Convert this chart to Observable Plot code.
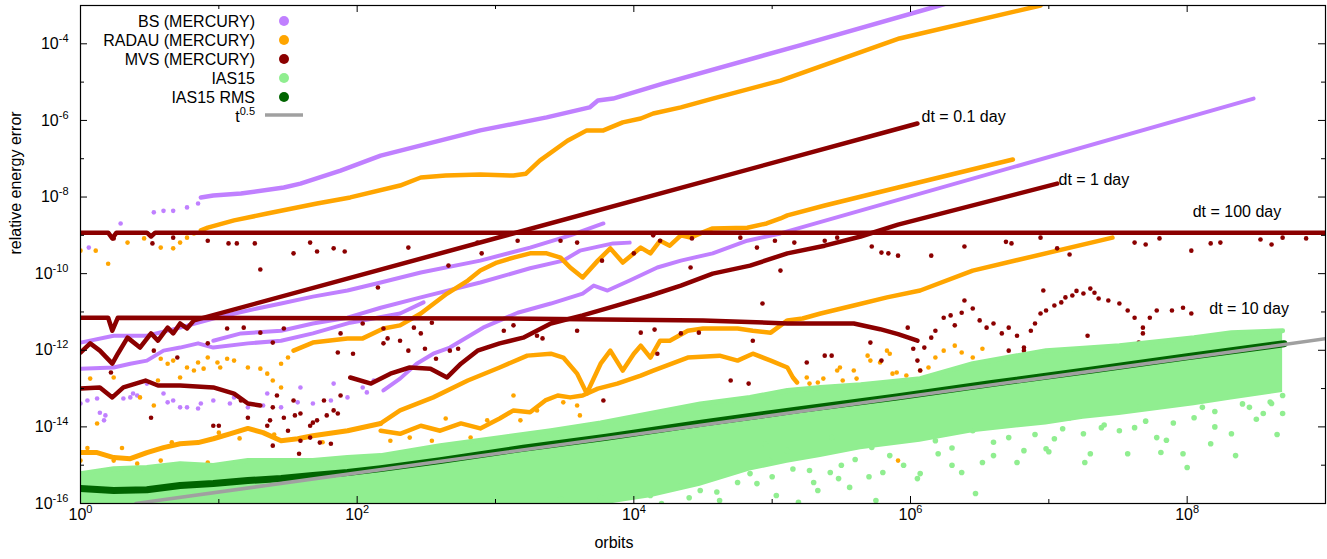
<!DOCTYPE html>
<html><head><meta charset="utf-8">
<script src="https://cdn.jsdelivr.net/npm/d3@7"></script>
<script src="https://cdn.jsdelivr.net/npm/@observablehq/plot@0.6"></script>
<style>body{margin:0;background:#fff} svg{display:block}</style>
</head><body><div id="chart"></div>
<script>
// values stored as [log10(orbits), log10(relative energy error)]
const bsTopStart = [[0.06,-9.32],[0.29,-8.69],[0.53,-8.40],[0.60,-8.36],[0.67,-8.36],[0.77,-8.27],[0.85,-8.17]];
const bsTop = [[0.87,-8.01],[0.96,-7.96],[1.16,-7.91],[1.47,-7.75],[1.59,-7.65],[1.88,-7.31],[2.17,-6.92],[2.89,-6.26],[3.37,-5.92],[3.68,-5.66],[3.74,-5.48],[3.85,-5.43],[4.21,-5.04],[5.20,-4.04],[6.21,-3.0],[6.3,-2.9]];
const bsFanA = [[0,-11.80],[0.24,-11.62],[0.48,-11.62],[0.72,-11.41],[0.96,-11.17],[1.21,-10.96],[1.45,-10.78],[1.68,-10.60],[1.93,-10.44],[2.17,-10.23],[2.46,-9.97],[2.89,-9.66],[3.25,-9.32],[3.54,-9.00],[3.78,-8.69]];
const bsFanB = [[0.96,-11.75],[1.16,-11.56],[1.45,-11.49],[1.68,-11.30],[1.93,-11.15],[2.17,-10.89],[2.46,-10.62],[2.89,-10.23],[3.25,-9.86],[3.49,-9.66],[3.61,-9.40],[3.85,-9.21],[3.97,-9.19]];
const bsFanC = [[0,-12.48],[0.24,-12.45],[0.36,-12.35],[0.48,-12.27],[0.60,-12.01],[0.72,-11.93],[0.85,-11.82],[0.96,-11.93],[1.21,-11.82],[1.45,-11.75],[1.68,-11.56],[1.95,-11.28],[2.31,-11.04],[2.48,-10.75]];
const bsLowStart = [[0,-13.39],[0.05,-13.31],[0.12,-13.26],[0.14,-13.63],[0.17,-13.83],[0.18,-13.70],[0.31,-13.26],[0.36,-13.23],[0.41,-13.18],[0.48,-12.87],[0.60,-13.13],[0.67,-13.31],[0.72,-13.49],[0.85,-13.52],[0.96,-13.31],[1.08,-13.39],[1.21,-13.49],[1.32,-13.44],[1.45,-13.49],[1.57,-13.36],[1.68,-13.39],[1.81,-13.31],[1.93,-13.23],[2.04,-12.97],[2.12,-12.79],[0.38,-13.13],[0.63,-13.36],[0.77,-13.49],[0.87,-13.39],[1.11,-13.23],[1.35,-13.13],[1.59,-12.97],[1.83,-12.87],[2.07,-13.10]];
const bsLow = [[2.19,-13.05],[2.31,-12.74],[2.43,-12.35],[2.55,-12.09],[2.67,-11.93],[2.91,-11.41],[3.16,-11.02],[3.40,-10.78],[3.63,-10.52],[3.71,-10.31],[3.81,-10.44],[3.97,-10.18],[4.17,-9.84],[4.34,-9.66],[4.57,-9.47],[4.82,-9.14],[5.06,-8.95],[8.48,-5.43]];

const radauTopStart = [[0,-9.40],[0.11,-9.40],[0.20,-9.74],[0.34,-9.19],[0.46,-9.08],[0.58,-9.32],[0.67,-9.34],[0.72,-9.19],[0.77,-9.06],[0.82,-8.95]];
const radauTop = [[0.87,-8.87],[0.92,-8.80],[1.11,-8.61],[1.35,-8.43],[1.71,-8.17],[1.95,-8.01],[2.31,-7.70],[2.46,-7.49],[2.64,-7.44],[2.89,-7.41],[3.13,-7.44],[3.22,-7.39],[3.32,-7.05],[3.52,-6.53],[3.66,-6.26],[3.78,-6.26],[3.92,-6.05],[4.05,-5.95],[4.14,-5.82],[4.34,-5.66],[4.57,-5.43],[5.06,-4.96],[5.92,-3.86],[6.94,-3.0]];
const radauMidDots = [[0.58,-12.22],[0.63,-12.35],[0.67,-12.27],[0.77,-12.45],[0.85,-12.32],[0.92,-12.19],[0.99,-12.32],[1.06,-12.22],[1.11,-12.27],[1.01,-12.45],[0.89,-12.48],[0.82,-12.53],[0.72,-12.71],[0.56,-12.79],[1.21,-12.45],[1.30,-12.48],[1.35,-12.61],[1.39,-12.79],[1.45,-12.97],[1.45,-12.35],[1.50,-12.19],[0.07,-12.74],[0.12,-13.91],[0.24,-12.71],[0.43,-13.23],[0.53,-13.44]];
const radauMid = [[1.54,-12.01],[1.68,-11.80],[1.93,-11.69],[2.04,-11.69],[2.19,-11.43],[2.31,-11.35],[2.46,-11.04],[2.65,-10.52],[2.80,-10.18],[2.89,-9.92],[3.01,-9.71],[3.13,-9.58],[3.25,-9.47],[3.37,-9.47],[3.47,-9.58],[3.54,-9.84],[3.63,-10.10],[3.74,-9.66],[3.83,-9.34],[3.92,-9.71],[4.05,-9.32],[4.12,-9.47],[4.19,-9.14],[4.26,-9.27],[4.34,-9.00],[4.41,-9.06],[4.48,-8.95],[4.57,-8.82],[4.82,-8.80],[4.96,-8.69],[5.06,-8.56],[5.11,-8.48],[5.38,-8.22],[5.91,-7.75],[6.74,-7.02]];
const radauLowBand = [[0,-14.67],[0.12,-14.67],[0.24,-14.80],[0.36,-14.83],[0.48,-14.67],[0.60,-14.54],[0.72,-14.44],[0.85,-14.41],[0.96,-14.31],[1.08,-14.18],[1.21,-14.04],[1.32,-14.15],[1.45,-14.36],[1.57,-14.31],[1.68,-14.23],[1.93,-14.10],[2.17,-13.91]];
const radauLowBandDots = [[0,-14.88],[0.24,-14.88],[0.41,-14.96],[0.58,-14.88],[0.92,-14.93],[1.21,-14.96],[1.25,-14.88],[0.30,-14.55],[0.66,-14.40],[1.00,-14.15],[1.40,-14.20],[1.75,-14.40],[1.15,-14.30],[0.05,-14.55]];
const radauLow = [[2.17,-13.91],[2.31,-13.57],[2.55,-13.23],[2.80,-12.79],[3.03,-12.45],[3.23,-12.14],[3.40,-12.09],[3.49,-12.19],[3.59,-12.61],[3.66,-13.13],[3.68,-12.97],[3.76,-12.35],[3.83,-12.01],[3.92,-12.53],[4.00,-12.09],[4.05,-11.88],[4.12,-12.19],[4.19,-11.75],[4.26,-11.75],[4.39,-11.49],[4.50,-11.43],[4.62,-11.43],[4.75,-11.43],[4.86,-11.49],[4.99,-11.54],[5.11,-11.22],[5.22,-11.17],[5.35,-11.04],[5.59,-10.83],[5.83,-10.62],[6.07,-10.44],[6.45,-9.92],[7.46,-9.06]];
const radauLowNoisy = [[2.17,-14.10],[2.31,-14.18],[2.46,-13.97],[2.60,-14.10],[2.75,-13.91],[2.89,-14.04],[3.03,-13.78],[3.13,-13.57],[3.25,-13.62],[3.36,-13.31],[3.45,-13.18],[3.54,-13.23],[3.63,-13.18],[3.74,-13.00],[3.88,-12.87],[4.05,-12.66],[4.14,-12.53],[4.39,-12.19],[4.62,-12.14],[4.75,-12.27],[4.86,-12.09],[4.99,-12.27],[5.11,-12.45],[5.15,-12.71],[5.18,-12.84]];
const radauLowDots = [[2.24,-14.36],[2.38,-14.28],[2.54,-14.36],[2.64,-13.78],[2.82,-14.28],[2.94,-13.83],[3.13,-13.18],[3.18,-13.83],[3.30,-13.57],[3.49,-13.36],[3.59,-13.44],[3.61,-13.70],[5.25,-12.71],[5.27,-12.87],[5.33,-12.84],[5.37,-12.74],[5.40,-13.00],[5.47,-12.53],[5.49,-12.45],[5.51,-12.79],[5.59,-12.53],[5.61,-12.74],[5.69,-12.14],[5.71,-12.27],[5.78,-12.32],[5.83,-12.01],[5.85,-12.09],[5.87,-12.61],[5.90,-12.58],[6.02,-12.79],[6.07,-12.53],[6.18,-12.19],[6.24,-12.01],[6.32,-11.88],[6.37,-12.06],[6.45,-12.19],[6.52,-11.96],[6.13,-12.45],[5.97,-12.66],[5.91,-13.78],[6.45,-13.65],[5.91,-14.88],[5.23,-14.36],[5.56,-13.57]];

const mvs100 = [[0,-8.93],[0.20,-8.93],[0.23,-9.08],[0.26,-8.93],[0.48,-8.93],[0.51,-9.03],[0.54,-8.93],[9,-8.93]];
const mvs100Dots = [[0.24,-9.08],[0.52,-9.21],[0.67,-9.06],[0.92,-9.14],[1.07,-9.21],[1.13,-9.21],[1.26,-9.21],[1.30,-9.89],[1.54,-9.47],[1.66,-9.19],[1.71,-9.42],[1.83,-9.34],[1.91,-9.42],[2.37,-9.32],[2.66,-9.79],[2.87,-9.19],[2.90,-9.47],[3.16,-9.14],[3.47,-9.14],[3.59,-9.19],[3.77,-9.66],[4.00,-9.47],[4.14,-9.00],[4.19,-9.14],[4.42,-9.08],[4.77,-9.06],[4.89,-9.32],[5.02,-9.14],[4.41,-9.84],[5.06,-9.92],[5.16,-9.19],[5.38,-9.14],[5.47,-9.06],[5.72,-9.29],[5.79,-9.45],[5.84,-9.47],[5.91,-9.53],[6.15,-9.53],[6.39,-9.29],[6.69,-9.17],[6.73,-9.21],[7.06,-9.34],[7.15,-9.50],[7.62,-9.19],[7.70,-9.24],[8.03,-9.40],[8.17,-9.21],[8.24,-9.19],[8.53,-9.11],[8.61,-9.24],[8.69,-9.06],[8.86,-9.08],[6.94,-9.06],[7.80,-9.08],[2.15,-10.36]];
const mvs10 = [[0,-11.15],[0.20,-11.15],[0.23,-11.49],[0.27,-11.15],[3.0,-11.17],[4.5,-11.22],[5.11,-11.30],[5.35,-11.30],[5.59,-11.30],[5.78,-11.45],[5.91,-11.58],[6.05,-11.75]];
const mvs10Dots = [[0.53,-12.01],[0.70,-12.19],[1.06,-11.43],[1.18,-11.41],[1.30,-11.54],[1.39,-11.80],[1.47,-11.43],[1.88,-11.56],[1.86,-12.06],[1.97,-12.09],[0.92,-11.82],[0.22,-12.58],[2.04,-11.30],[2.19,-11.43],[2.22,-11.69],[2.19,-11.82],[2.31,-11.75],[2.41,-11.41],[2.46,-11.56],[2.54,-11.28],[2.49,-11.96],[2.37,-12.01],[2.57,-12.22],[2.67,-12.01],[2.73,-11.96],[3.06,-11.49],[3.13,-11.35],[3.30,-11.62],[3.34,-11.69],[3.59,-11.49],[4.05,-11.54],[4.15,-11.46],[4.34,-11.56],[4.47,-11.54],[4.93,-10.78],[4.86,-11.75],[4.17,-12.09],[4.70,-12.79],[4.83,-12.87],[5.71,-11.80],[5.79,-12.27],[5.98,-11.41],[6.02,-11.96],[3.78,-13.31],
 [6.10,-11.93],[6.15,-11.67],[6.18,-11.49],[6.24,-11.15],[6.29,-11.09],[6.37,-11.02],[6.45,-10.91],[6.50,-11.22],[6.55,-11.41],[6.60,-11.30],[6.66,-11.56],[6.71,-11.41],[6.77,-11.62],[6.82,-11.93],[6.87,-11.49],[6.94,-11.04],[6.98,-10.96],[7.04,-10.83],[7.09,-10.75],[7.17,-10.57],[7.25,-10.52],[7.30,-10.39],[7.36,-10.65],[7.43,-10.70],[7.51,-10.78],[7.57,-10.96],[7.62,-11.15],[7.68,-11.41],[7.73,-11.15],[7.78,-10.96],[7.89,-10.96],[7.97,-10.89],[8.03,-11.04],[7.65,-11.80],[7.84,-11.93],[8.03,-11.69],[7.68,-11.56],[6.05,-12.27],[6.07,-12.53],[6.71,-12.01],[6.82,-12.01],[6.96,-10.44],[7.28,-11.62],[5.25,-12.32],[5.38,-12.14],[5.43,-12.14],[6.32,-11.35],[6.39,-10.70],[7.20,-10.45],[7.33,-10.50],[7.12,-10.62],[6.90,-11.30]];
const mvs01 = [[0,-12.06],[0.07,-11.82],[0.14,-12.01],[0.23,-12.35],[0.27,-12.09],[0.34,-11.67],[0.43,-11.93],[0.51,-11.56],[0.56,-11.75],[0.63,-11.41],[0.67,-11.56],[0.72,-11.30],[0.77,-11.43],[0.82,-11.22],[6.05,-6.08]];
const mvs1a = [[0,-13.00],[0.14,-12.97],[0.23,-13.23],[0.31,-12.97],[0.47,-12.79],[0.56,-12.92],[0.72,-12.92],[0.96,-12.97],[1.11,-13.13],[1.21,-13.39],[1.30,-13.44]];
const mvs1Dots = [[1.39,-13.49],[1.47,-13.76],[1.50,-14.10],[1.59,-13.65],[1.71,-13.83],[1.83,-13.57],[0.51,-13.76],[0.96,-13.97],[1.16,-13.31],[1.21,-13.76],[1.54,-13.31],[1.66,-13.97],[1.76,-13.31],[1.88,-13.18],[1.42,-13.18],[1.59,-14.36],[1.37,-13.83],[1.39,-14.49],[1.58,-14.70],[1.66,-14.28],[1.73,-14.41],[1.81,-14.44],[1.35,-13.97],[1.55,-13.70],[1.68,-13.89],[1.78,-13.70],[1.86,-13.65],[1.00,-13.97]];
const mvs1b = [[1.95,-12.71],[2.10,-12.87],[2.24,-12.61],[2.38,-12.45],[2.53,-12.48],[2.65,-12.71],[2.75,-12.35],[2.87,-12.01],[3.03,-11.82],[3.20,-11.67],[3.40,-11.30],[3.63,-11.09],[3.88,-10.83],[4.12,-10.57],[4.34,-10.31],[4.57,-10.00],[4.84,-9.79],[5.11,-9.47],[5.38,-9.27],[5.64,-9.03],[5.91,-8.72],[7.06,-7.65]];

// IAS15 cloud: [log orbits, upper edge, lower edge of dense part]
const iasBand = [[0,-15.22,-16.1],[0.24,-15.09,-16.1],[0.48,-15.06,-16.1],[0.72,-14.96,-16.1],[0.96,-15.01,-16.1],[1.21,-14.88,-16.1],[1.45,-14.88,-16.1],[1.68,-14.88,-16.1],[1.93,-14.80,-16.1],[2.17,-14.75,-16.1],[2.60,-14.49,-16.1],[3.03,-14.28,-16.1],[3.40,-14.10,-16.1],[3.76,-13.90,-16.05],[4.12,-13.65,-15.85],[4.48,-13.40,-15.55],[4.84,-13.23,-15.15],[5.11,-13.05,-14.95],[5.35,-12.97,-14.8],[5.64,-12.90,-14.6],[6.07,-12.74,-14.4],[6.45,-12.35,-14.15],[6.98,-12.01,-13.95],[7.25,-11.95,-13.8],[7.51,-11.88,-13.7],[8.05,-11.67,-13.45],[8.32,-11.54,-13.3],[8.69,-11.49,-13.1]];
const iasDots = [[4.84,-15.22],[4.89,-15.48],[5.19,-15.97],[5.03,-15.79],[5.33,-15.66],[5.48,-15.35],[5.56,-15.58],[5.27,-15.14],[5.42,-15.19],[5.75,-15.92],[5.80,-15.19],[6.05,-15.35],[6.07,-15.22],[6.37,-15.19],[6.47,-15.74],[6.52,-14.93],[6.77,-14.93],[6.82,-14.62],[6.98,-14.57],[7.04,-14.31],[7.26,-14.93],[7.30,-14.70],[7.57,-14.70],[7.62,-14.02],[7.78,-14.28],[7.81,-14.67],[7.97,-14.70],[8.00,-15.06],[8.17,-14.44],[8.32,-14.18],[8.35,-14.75],[8.55,-13.65],[8.61,-13.39],[8.69,-13.18],[8.69,-13.65],[7.25,-14.18],[7.38,-14.02],[7.65,-13.49],[8.05,-13.76],[8.11,-13.49],[8.45,-13.49],[7.51,-14.10],[7.15,-13.76],[6.71,-14.28],[6.45,-14.10],[6.18,-14.36],[5.72,-14.54],[5.43,-14.28],[5.11,-14.62],[4.98,-14.88],[4.95,-14.44],[3.76,-15.84],[4.12,-15.79],[4.48,-15.66],[4.62,-15.92],[3.47,-15.89],[4.34,-15.53],
 [4.2,-16.0],[4.4,-15.85],[4.6,-15.7],[4.75,-15.45],[5.0,-15.3],[5.15,-15.1],[5.3,-15.45],[5.5,-15.0],[5.6,-14.85],[5.85,-14.75],[5.95,-15.0],[6.2,-14.7],[6.3,-14.55],[6.6,-14.4],[6.9,-14.2],[7.1,-14.05],[7.4,-13.95],[7.7,-13.85],[7.9,-13.9],[8.2,-13.6],[8.4,-13.4],[8.6,-13.35],[8.5,-13.8],[8.65,-14.2],[8.2,-14.0],[7.0,-14.65],[6.3,-15.0],[5.7,-15.3],[6.6,-14.75],[7.85,-14.35]];
const iasRms = [[0,-15.61],[0.24,-15.66],[0.48,-15.64],[0.72,-15.53],[0.96,-15.48],[1.21,-15.40],[1.45,-15.35],[1.68,-15.27],[1.93,-15.19],[2.17,-15.09],[2.6,-14.88],[3.2,-14.56],[3.8,-14.27],[4.5,-13.90],[5.2,-13.55],[5.9,-13.22],[6.6,-12.86],[7.3,-12.52],[8.0,-12.17],[8.7,-11.83]];
const tHalf = [[0.4,-16.0],[9.0,-11.7]];

const annotations = [[6.08,-5.92,"dt = 0.1 day"],[7.07,-7.54,"dt = 1 day"],[8.04,-8.38,"dt = 100 day"],[8.16,-10.91,"dt = 10 day"]];
const xMajor = [0,2,4,6,8];
const xMinor = [1,3,5,7,9];
const yMajor = [-16,-14,-12,-10,-8,-6,-4];
const yMinor = [-15,-13,-11,-9,-7,-5,-3];
const legendItems = [["BS (MERCURY)","#c080ff","dot"],["RADAU (MERCURY)","#ffa500","dot"],["MVS (MERCURY)","#8b0000","dot"],["IAS15","#90ee90","dot"],["IAS15 RMS","#006400","dot"],["t^0.5","#a0a0a0","line"]];

const purple = "#c080ff", orange = "#ffa500", darkred = "#8b0000", lightgreen = "#90ee90", darkgreen = "#006400", gray = "#a0a0a0";
const P = a => a.map(d => ({x: 10 ** d[0], y: 10 ** d[1]}));
const LW = 4.5, R = 2.3;
const ln = (a, c, w = LW) => Plot.line(P(a), {x: "x", y: "y", stroke: c, strokeWidth: w, clip: true});
const dt = (a, c, r = R) => Plot.dot(P(a), {x: "x", y: "y", fill: c, r, clip: true});

const plot = Plot.plot({
  width: 1327, height: 559,
  marginLeft: 80, marginRight: 2, marginTop: 5, marginBottom: 56,
  style: {fontFamily: "'Liberation Sans', Arial, sans-serif", fontSize: "16px", background: "white", color: "black"},
  x: {type: "log", domain: [1, 1e9], axis: null},
  y: {type: "log", domain: [1e-16, 1e-3], axis: null},
  marks: [
    dt(bsTopStart, purple), ln(bsTop, purple),
    ln(bsFanA, purple, 4), ln(bsFanB, purple, 4), ln(bsFanC, purple, 4),
    dt(bsLowStart, purple), ln(bsLow, purple, 4),
    dt(radauTopStart, orange), ln(radauTop, orange),
    dt(radauMidDots, orange), ln(radauMid, orange),
    ln(radauLowBand, orange, 5), dt(radauLowBandDots, orange),
    ln(radauLow, orange), ln(radauLowNoisy, orange, 4.5), dt(radauLowDots, orange),
    ln(mvs100, darkred, 4.5), dt(mvs100Dots, darkred),
    ln(mvs10, darkred, 4.5), dt(mvs10Dots, darkred),
    ln(mvs01, darkred, 4.5),
    ln(mvs1a, darkred, 4.5), dt(mvs1Dots, darkred), ln(mvs1b, darkred, 4.5),
    Plot.areaY(iasBand, {x: d => 10 ** d[0], y1: d => 10 ** d[2], y2: d => 10 ** d[1], fill: lightgreen, clip: true}),
    Plot.line(iasBand, {x: d => 10 ** d[0], y: d => 10 ** d[1], stroke: lightgreen, strokeWidth: 5, clip: true}),
    dt(iasDots, lightgreen, 2.8),
    ln(iasRms, darkgreen, 7),
    ln(tHalf, gray, 3.5),
    Plot.frame({stroke: "black", strokeWidth: 1.2}),
    Plot.tickX(xMajor, {x: d => 10 ** d, insetTop: 491, stroke: "black"}),
    Plot.tickX(xMajor, {x: d => 10 ** d, insetBottom: 491, stroke: "black"}),
    Plot.tickX(xMinor, {x: d => 10 ** d, insetTop: 494, stroke: "black"}),
    Plot.tickX(xMinor, {x: d => 10 ** d, insetBottom: 494, stroke: "black"}),
    Plot.tickY(yMajor, {y: d => 10 ** d, insetRight: 1238, stroke: "black"}),
    Plot.tickY(yMajor, {y: d => 10 ** d, insetLeft: 1238, stroke: "black"}),
    Plot.tickY(yMinor, {y: d => 10 ** d, insetRight: 1241, stroke: "black"}),
    Plot.tickY(yMinor, {y: d => 10 ** d, insetLeft: 1241, stroke: "black"}),
    Plot.axisX({ticks: xMajor.map(d => 10 ** d), anchor: "bottom", tickSize: 0, tickPadding: 5, label: null, fontSize: 16, tickFormat: d => "10^" + Math.round(Math.log10(d))}),
    Plot.axisY({ticks: yMajor.map(d => 10 ** d), anchor: "left", tickSize: 0, tickPadding: 12, label: null, fontSize: 16, tickFormat: d => "10^" + Math.round(Math.log10(d))}),
    Plot.text(["orbits"], {frameAnchor: "bottom", dx: -89, dy: 44, text: d => d, fontSize: 16}),
    Plot.text(["relative energy error"], {frameAnchor: "left", dx: -65, rotate: -90, text: d => d, fontSize: 16}),
    Plot.text(annotations, {x: d => 10 ** d[0], y: d => 10 ** d[1], text: d => d[2], textAnchor: "start", fontSize: 16, fill: "black"})
  ]
});

const ns = "http://www.w3.org/2000/svg";
function superscript(t) {
  const s = t.textContent;
  const m = s.match(/^(.*)\^(.*)$/);
  if (!m) return;
  t.textContent = "";
  const a = document.createElementNS(ns, "tspan"); a.textContent = m[1];
  const b = document.createElementNS(ns, "tspan"); b.textContent = m[2];
  b.setAttribute("dy", "-7"); b.setAttribute("font-size", "11");
  t.append(a, b);
}
plot.querySelectorAll("text").forEach(superscript);

// legend inside the plot area (top-left)
const svg = d3.select(plot);
const lg = svg.append("g").attr("font-family", "'Liberation Sans', Arial, sans-serif").attr("font-size", 16);
legendItems.forEach((e, i) => {
  const yc = [21, 40, 59, 78, 97, 115][i];
  const t = lg.append("text").attr("x", 255).attr("y", i === 5 ? yc + 7 : yc + 6).attr("text-anchor", "end").attr("fill", "black").text(e[0]);
  superscript(t.node());
  if (e[2] === "dot") lg.append("circle").attr("cx", 284).attr("cy", yc).attr("r", 5).attr("fill", e[1]);
  else lg.append("line").attr("x1", 265).attr("x2", 303).attr("y1", yc).attr("y2", yc).attr("stroke", e[1]).attr("stroke-width", 3.5);
});

document.getElementById("chart").append(plot);
</script></body></html>
